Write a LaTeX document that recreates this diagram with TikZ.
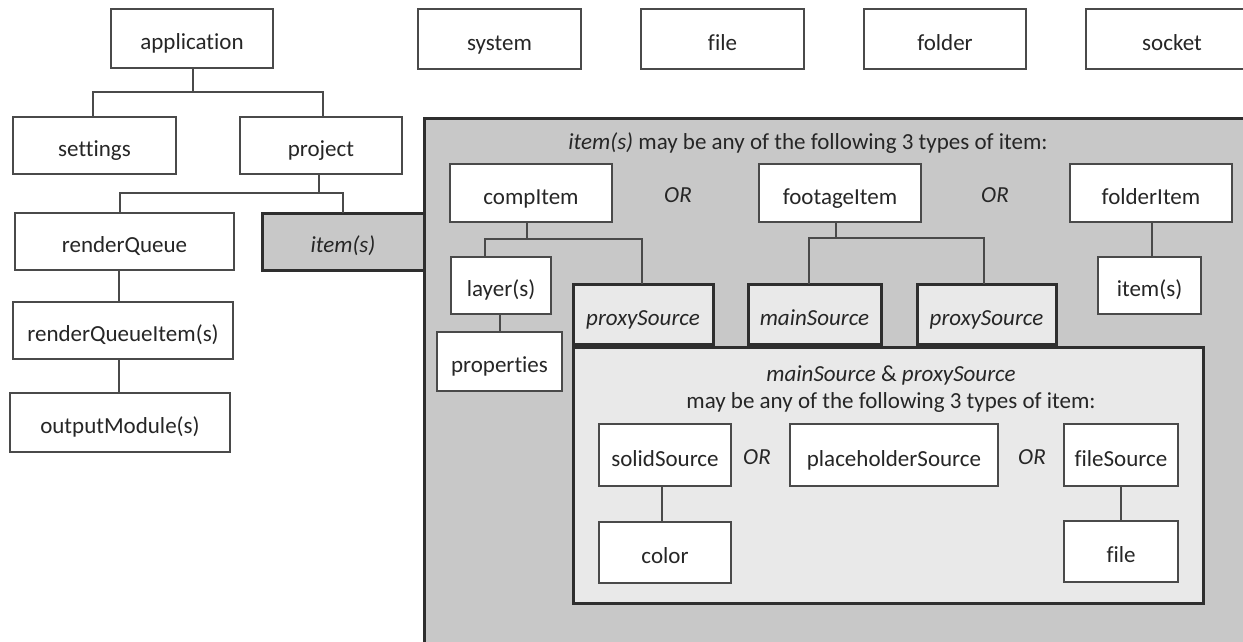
\documentclass[tikz,border=0pt]{standalone}
\usepackage{fontspec}
\setmainfont[Ligatures=NoCommon]{Carlito}
\definecolor{txt}{HTML}{262626}
\definecolor{edge}{HTML}{4A4A4A}
\definecolor{dark}{HTML}{2E2E2E}
\definecolor{midgray}{HTML}{C8C8C8}
\definecolor{lightgray}{HTML}{E9E9E9}
\begin{document}
\begin{tikzpicture}[x=1pt,y=-1pt,
  every node/.style={font=\fontsize{23}{27}\selectfont, text=txt, inner sep=0pt, outer sep=0pt},
  whitebox/.style={draw=edge, line width=1.3pt, fill=white, text height=23pt, text depth=1pt},
  thickbox/.style={draw=dark, line width=3pt, fill=lightgray, text height=23pt, text depth=1pt},
  graybox/.style={draw=dark, line width=3pt, fill=midgray, text height=23pt, text depth=1pt},
  link/.style={draw=edge, line width=1.3pt}]
\useasboundingbox (0,0) rectangle (1243,641);
\fill[white] (0,0) rectangle (1243,641);
% helper: box from corners
\newcommand{\bx}[7]{\node[#1, minimum width=#4-#2, minimum height=#5-#3, anchor=north west] (#6) at (#2,#3) {#7};}
% big gray region
\bx{graybox}{424}{118}{1252}{643}{big}{}
\bx{graybox}{262}{213}{424}{270}{items}{\textit{item(s)}}
% top row
\bx{whitebox}{111}{9}{273}{68}{application}{application}
\bx{whitebox}{418}{9}{581}{69}{system}{system}
\bx{whitebox}{641}{9}{804}{69}{file}{file}
\bx{whitebox}{864}{9}{1026}{69}{folder}{folder}
\bx{whitebox}{1086}{9}{1258}{69}{socket}{socket}
% left column
\bx{whitebox}{13}{117}{176}{174}{settings}{settings}
\bx{whitebox}{240}{117}{402}{174}{project}{project}
\bx{whitebox}{15}{213}{234}{270}{renderQueue}{renderQueue}
\bx{whitebox}{13}{302}{233}{359}{rqi}{renderQueueItem(s)}
\bx{whitebox}{10}{393}{230}{452}{om}{outputModule(s)}
% inside big box
\node (hdr) at (808,143) {\textit{item(s)} may be any of the following 3 types of item:};
\bx{whitebox}{450}{164}{612}{222}{comp}{compItem}
\bx{whitebox}{759}{164}{921}{222}{footage}{footageItem}
\bx{whitebox}{1070}{164}{1232}{222}{folderItem}{folderItem}
\node (or1) at (678,195) {\textit{OR}};
\node (or2) at (995,195) {\textit{OR}};
\bx{whitebox}{451}{257}{551}{314}{layer}{layer(s)}
\bx{whitebox}{1098}{257}{1201}{314}{subitems}{item(s)}
\bx{whitebox}{437}{332}{562}{391}{properties}{properties}
\bx{thickbox}{573}{347}{1203}{603}{inner}{}
\bx{thickbox}{573}{284}{713}{344}{proxyA}{\textit{proxySource}}
\bx{thickbox}{748}{284}{881}{344}{mainS}{\textit{mainSource}}
\bx{thickbox}{917}{284}{1056}{344}{proxyB}{\textit{proxySource}}
% inner content
\node (inl1) at (891,375) {\textit{mainSource} \& \textit{proxySource}};
\node (inl2) at (891,402) {may be any of the following 3 types of item:};
\bx{whitebox}{599}{424}{731}{486}{solid}{solidSource}
\bx{whitebox}{790}{424}{998}{486}{placeholder}{placeholderSource}
\bx{whitebox}{1064}{424}{1178}{486}{fileSource}{fileSource}
\node (or3) at (757,457) {\textit{OR}};
\node (or4) at (1032,457) {\textit{OR}};
\bx{whitebox}{599}{522}{731}{583}{color}{color}
\bx{whitebox}{1064}{521}{1178}{582}{fileLeaf}{file}
% connectors
\coordinate (j1) at (193,92);
\draw[link] (application.south -| j1) -- (j1);
\draw[link] (settings.north -| 93,0) |- (j1) -| (project.north -| 323,0);
\coordinate (j2) at (319,193);
\draw[link] (project.south -| j2) -- (j2);
\draw[link] (renderQueue.north -| 120,0) |- (j2) -| (items.north);
\draw[link] (renderQueue.south -| 119,0) -- (rqi.north -| 119,0);
\draw[link] (rqi.south -| 119,0) -- (om.north -| 119,0);
\coordinate (j3) at (527,239);
\draw[link] (comp.south -| j3) -- (j3);
\draw[link] (layer.north -| 485,0) |- (j3) -| (proxyA.north -| 642,0);
\draw[link] (layer.south -| 500,0) -- (properties.north -| 500,0);
\coordinate (j4) at (836,238);
\draw[link] (footage.south -| j4) -- (j4);
\draw[link] (mainS.north -| 809,0) |- (j4) -| (proxyB.north -| 984,0);
\draw[link] (folderItem.south -| 1152,0) -- (subitems.north -| 1152,0);
\draw[link] (solid.south -| 662,0) -- (color.north -| 662,0);
\draw[link] (fileSource.south -| 1121,0) -- (fileLeaf.north -| 1121,0);
\end{tikzpicture}
\end{document}
